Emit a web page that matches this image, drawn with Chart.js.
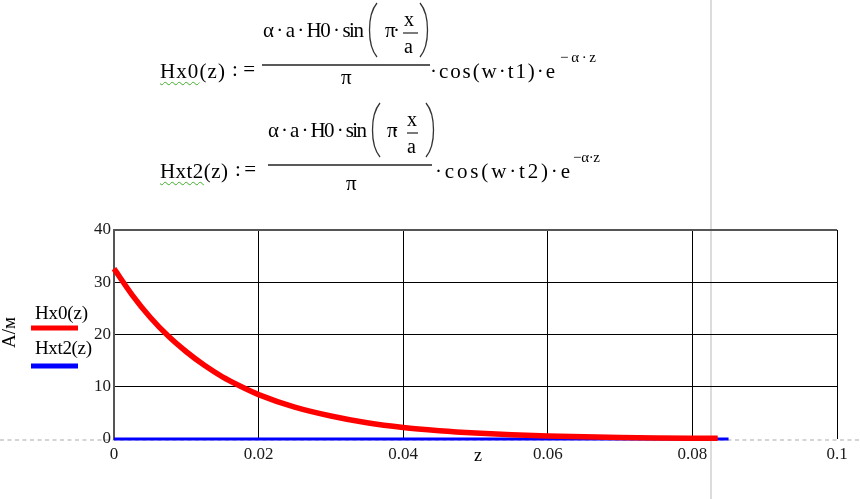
<!DOCTYPE html>
<html lang="ru">
<head>
<meta charset="UTF-8" />
<title>Hx0(z), Hxt2(z)</title>
<script src="https://cdn.jsdelivr.net/npm/chart.js"></script>
<style>
  html, body { margin: 0; padding: 0; background: #fff; }
  body { width: 860px; height: 499px; position: relative; overflow: hidden;
         font-family: "Liberation Serif", "Times New Roman", serif; color: #000; }
  .t { position: absolute; white-space: nowrap; line-height: 1.2; }
  .w { text-decoration: underline wavy #3fae2a; text-decoration-thickness: 1px; text-underline-offset: 3px; }
  #deco { position: absolute; left: 0; top: 0; }
  #plot { position: absolute; left: 0; top: 0; }
</style>
</head>
<body>
<svg id="deco" width="860" height="499">
  <!-- page guide lines -->
  <line x1="711" y1="0" x2="711" y2="499" stroke="#d0d0d0" stroke-width="1.5" />
  <line x1="0" y1="440" x2="860" y2="440" stroke="#c6c6c6" stroke-width="1.3" stroke-dasharray="4 3.5" />
  <!-- formula 1 -->
  <line x1="262" y1="65" x2="430" y2="65" stroke="#222" stroke-width="1.3" />
  <line x1="403" y1="33" x2="418" y2="33" stroke="#222" stroke-width="1.2" />
  <path d="M377,3 C367,15 367,45 377,57" fill="none" stroke="#333" stroke-width="1.3" />
  <path d="M420,3 C430,15 430,45 420,57" fill="none" stroke="#333" stroke-width="1.3" />
  <!-- formula 2 -->
  <line x1="268" y1="165" x2="432" y2="165" stroke="#222" stroke-width="1.3" />
  <line x1="407" y1="133" x2="418" y2="133" stroke="#222" stroke-width="1.2" />
  <path d="M380,103 C370,115 370,145 380,157" fill="none" stroke="#333" stroke-width="1.3" />
  <path d="M426,103 C436,115 436,145 426,157" fill="none" stroke="#333" stroke-width="1.3" />
  <!-- legend swatches -->
  <line x1="31" y1="328" x2="78" y2="328" stroke="#ff0000" stroke-width="5" />
  <line x1="31" y1="366" x2="78" y2="366" stroke="#0000ff" stroke-width="5" />
</svg>
<canvas id="plot" width="860" height="499"></canvas>
<script>
  // values
  const redZ = [0, 0.0025, 0.005, 0.0075, 0.01, 0.0125, 0.015, 0.0175, 0.02, 0.025, 0.03,
                0.035, 0.04, 0.045, 0.05, 0.055, 0.06, 0.065, 0.07, 0.075, 0.08, 0.0835];
  const hx0 = [32.6, 27.6, 23.3, 19.7, 16.7, 14.1, 11.9, 10.1, 8.5, 6.1, 4.4,
               3.1, 2.2, 1.6, 1.15, 0.82, 0.59, 0.42, 0.3, 0.21, 0.15, 0.12];
  const blueZ = [0, 0.02, 0.04, 0.06, 0.085];
  const hxt2 = [0, 0, 0, 0, 0];
  const xTicks = [0, 0.02, 0.04, 0.06, 0.08, 0.1];
  const yTicks = [0, 10, 20, 30, 40];

  // text pieces: text, left, right, cap-centre y, size
  function put(html, x1, x2, cy, size) {
    const s = document.createElement('span');
    s.className = 't';
    s.innerHTML = html;
    s.style.fontSize = size + 'px';
    s.style.left = x1 + 'px';
    s.style.top = (cy - size * 0.6) + 'px';
    document.body.appendChild(s);
    const n = [...s.textContent].length;
    if (x2 && n > 1) {
      const w = s.getBoundingClientRect().width;
      s.style.letterSpacing = ((x2 - x1 - w) / (n - 1)) + 'px';
    }
    return s;
  }

  // formula 1
  put('<span class="w">Hx0</span>(z)', 160, 225, 72, 21);
  put(':=', 232, 255, 70, 21);
  put('α · a · H0 · sin', 263, 364, 31, 21);
  put('π·', 385, 400, 31, 21);
  put('x', 404, 0, 19, 20);
  put('a', 404, 0, 46, 20);
  put('π', 341, 0, 78, 21);
  put('·cos(w·t1)·e', 430, 555, 72, 21);
  put('−α·z', 560, 596, 57, 15);

  // formula 2
  put('<span class="w">Hxt2</span>(z)', 160, 228, 172, 21);
  put(':=', 235, 256, 170, 21);
  put('α · a · H0 · sin', 268, 367, 131, 21);
  put('π·', 387, 399, 131, 21);
  put('x', 407, 0, 119, 20);
  put('a', 407, 0, 146, 20);
  put('π', 346, 0, 184, 21);
  put('·cos(w·t2)·e', 435, 570, 172, 21);
  put('−α·z', 573, 600, 157, 15);

  // legend and axis titles
  put('Hx0(z)', 35, 88, 313, 19);
  put('Hxt2(z)', 35, 92, 348, 19);
  put('z', 474, 0, 456, 18);
  const yt = put('А/м', 0, 0, 0, 19);
  yt.style.left = '-6px';
  yt.style.top = '321px';
  yt.style.transform = 'rotate(-90deg)';
  yt.style.transformOrigin = '50% 50%';

  const font = { family: '"Liberation Serif", "Times New Roman", serif', size: 17 };
  const fmt = v => String(parseFloat(Number(v).toFixed(3)));

  new Chart(document.getElementById('plot'), {
    type: 'line',
    data: {
      datasets: [
        {
          label: 'Hx0(z)',
          data: redZ.map((z, i) => ({ x: z, y: hx0[i] })),
          borderColor: '#ff0000',
          borderWidth: 5.5,
          pointRadius: 0,
          cubicInterpolationMode: 'monotone',
          clip: false
        },
        {
          label: 'Hxt2(z)',
          data: blueZ.map((z, i) => ({ x: z, y: hxt2[i] })),
          borderColor: '#0000ff',
          borderWidth: 3,
          pointRadius: 0,
          clip: false
        }
      ]
    },
    options: {
      responsive: false,
      animation: false,
      devicePixelRatio: 1,
      layout: { padding: { left: 84, top: 230, right: 23, bottom: 35 } },
      plugins: { legend: { display: false }, tooltip: { enabled: false } },
      scales: {
        x: {
          type: 'linear',
          min: 0,
          max: 0.1,
          afterBuildTicks: s => { s.ticks = xTicks.map(v => ({ value: v })); },
          afterFit: s => { s.height = 25; },
          border: { display: false },
          grid: {
            color: c => (c.tick && c.tick.value === 0) ? 'rgba(0,0,0,0)' : '#000',
            lineWidth: 1,
            drawTicks: false
          },
          ticks: { padding: 5, font: font, color: '#1a1a1a', maxRotation: 0, callback: fmt }
        },
        y: {
          min: 0,
          max: 40,
          afterBuildTicks: s => { s.ticks = yTicks.map(v => ({ value: v })); },
          afterFit: s => { s.width = 30; },
          border: { display: true, color: '#555', width: 2 },
          grid: {
            color: c => {
              const v = c.tick ? c.tick.value : null;
              if (v === 0) return 'rgba(0,0,0,0)';
              return v === 40 ? '#555' : '#000';
            },
            lineWidth: c => (c.tick && c.tick.value === 40) ? 2 : 1,
            drawTicks: false
          },
          ticks: { padding: 3, font: font, color: '#1a1a1a', callback: fmt }
        }
      }
    }
  });
</script>
</body>
</html>
